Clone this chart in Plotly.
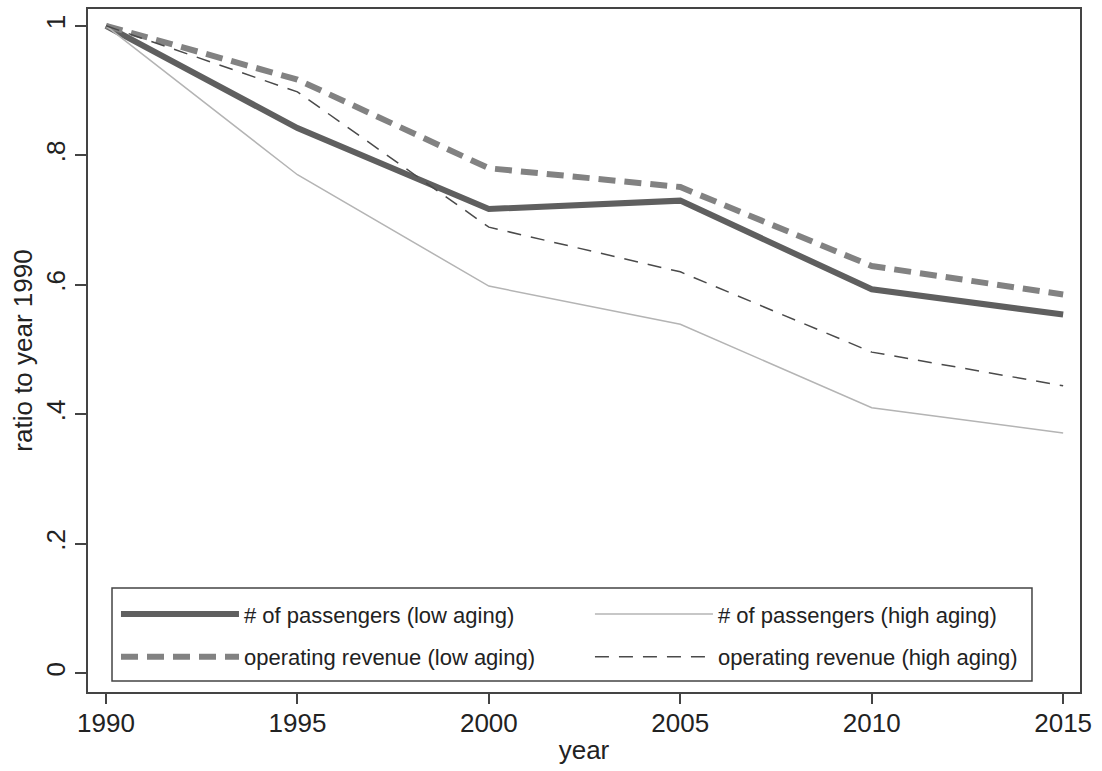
import plotly.graph_objects as go

years = [1990, 1995, 2000, 2005, 2010, 2015]
pass_low = [1.0, 0.842, 0.717, 0.730, 0.593, 0.554]
pass_high = [1.0, 0.770, 0.598, 0.539, 0.410, 0.371]
rev_low = [1.0, 0.917, 0.780, 0.751, 0.629, 0.585]
rev_high = [1.0, 0.898, 0.689, 0.620, 0.496, 0.444]

y_ticks = [0, 0.2, 0.4, 0.6, 0.8, 1.0]
y_tick_labels = ["0", ".2", ".4", ".6", ".8", "1"]
x_ticks = years

FONT = "Liberation Sans, Arial, Helvetica, sans-serif"

fig = go.Figure()
fig.add_trace(go.Scatter(x=years, y=pass_low, mode="lines", name="# of passengers (low aging)",
                         line=dict(color="#5f5f5f", width=6), legend="legend", legendgroup="a"))
fig.add_trace(go.Scatter(x=years, y=rev_low, mode="lines", name="operating revenue (low aging)",
                         line=dict(color="#828282", width=6, dash="17px,9px"), legend="legend", legendgroup="b"))
fig.add_trace(go.Scatter(x=years, y=pass_high, mode="lines", name="# of passengers (high aging)",
                         line=dict(color="#b4b4b4", width=1.5), legend="legend2", legendgroup="c"))
fig.add_trace(go.Scatter(x=years, y=rev_high, mode="lines", name="operating revenue (high aging)",
                         line=dict(color="#4a4a4a", width=1.5, dash="14px,10px"), legend="legend2", legendgroup="d"))

leg_common = dict(
    yanchor="top", xanchor="left",
    bgcolor="rgba(0,0,0,0)", borderwidth=0,
    font=dict(size=22, family=FONT, color="#222222"),
    itemwidth=118,
    tracegroupgap=11,
    orientation="v",
)

fig.update_layout(
    width=1102, height=771,
    margin=dict(l=88, r=22, t=9, b=79),
    paper_bgcolor="white", plot_bgcolor="white",
    font=dict(family=FONT, color="#222222", size=26),
    showlegend=True,
    legend=dict(x=0.0282, y=0.1446, **leg_common),
    legend2=dict(x=0.506, y=0.1446, **leg_common),
    shapes=[dict(type="rect", xref="paper", yref="paper", x0=0.0242, x1=0.9516, y0=0.0161, y1=0.1523,
                 line=dict(color="#444444", width=1.5), fillcolor="white", layer="below")],
    xaxis=dict(
        range=[1989.53, 2015.44], tickvals=x_ticks, ticktext=[str(v) for v in x_ticks],
        showgrid=False, zeroline=False, showline=True, mirror=True, linecolor="#444444", linewidth=2,
        ticks="outside", ticklen=10, tickwidth=2, tickcolor="#444444", automargin=False,
        ticklabelstandoff=-3,
        title=dict(text="year", standoff=4, font=dict(size=26)),
        tickfont=dict(size=26),
    ),
    yaxis=dict(
        range=[-0.029, 1.026], tickvals=y_ticks, ticktext=y_tick_labels,
        showgrid=False, zeroline=False, showline=True, mirror=True, linecolor="#444444", linewidth=2,
        ticks="outside", ticklen=11, tickwidth=2, tickcolor="#444444", tickangle=-90, automargin=False,
        title=dict(text="ratio to year 1990", standoff=0, font=dict(size=26)),
        tickfont=dict(size=26),
    ),
)

fig.write_html("out.html", config={"displayModeBar": False},
               post_script="document.body.style.margin='0';")
